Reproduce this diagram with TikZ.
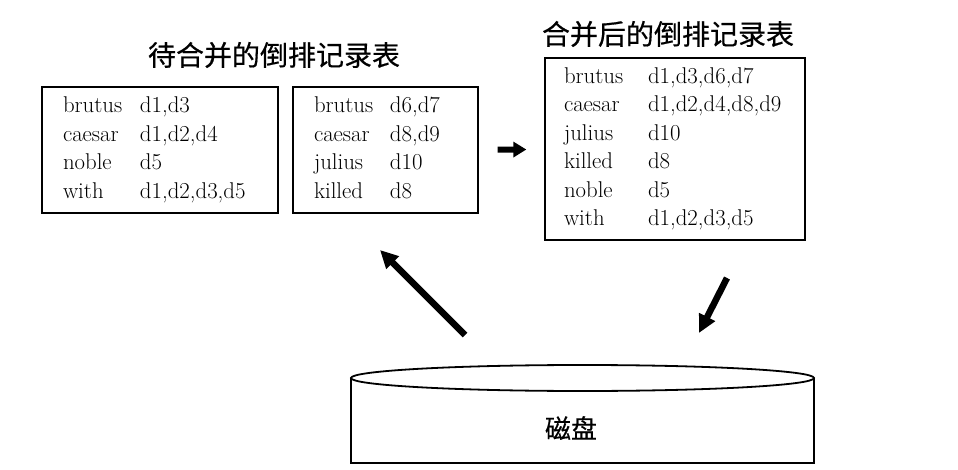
\documentclass[tikz,border=0pt]{standalone}
\usepackage{fontspec}
\newfontfamily\cjk[FakeBold=0.5]{Noto Sans CJK SC}
\usepackage{array}
\usetikzlibrary{arrows.meta, positioning}
\tikzstyle{lista} = [rectangle, 
draw=black, 
line width=1.3pt, 
inner sep=0pt, 
font=\fontsize{22.8}{28.5}\selectfont]
\tikzstyle{titulo} = [font=\cjk\fontsize{28}{32}\selectfont]
\tikzstyle{flecha} = [line width=6.5pt, -{Triangle[length=18pt,width=17pt]}]
\tikzstyle{disco} = [line width=1.8pt]

\begin{document}
\begin{tikzpicture}[x=1pt, y=-1pt]
        \useasboundingbox (0,0) rectangle (958,470);

        % --- Listas antes de la fusión ---
        \node (lista1) [lista, minimum width=236pt, minimum height=126pt] at (160,150)
            {\begin{tabular}{@{}p{77pt}@{}p{117pt}@{}}
            brutus & d1,d3\\
            caesar & d1,d2,d4\\
            noble & d5\\
            with & d1,d2,d3,d5
            \end{tabular}};

        \node (lista2) [lista, minimum width=185pt, minimum height=126pt] at (385.5,150)
            {\begin{tabular}{@{}p{76pt}@{}p{67pt}@{}}
            brutus & d6,d7\\
            caesar & d8,d9\\
            julius & d10\\
            killed & d8
            \end{tabular}};

        \node (titulo1) [titulo] at (274,55) {待合并的倒排记录表};

        % --- Lista fusionada ---
        \node (fusion) [lista, minimum width=260pt, minimum height=182pt] at (675,149)
            {\begin{tabular}{@{}p{84pt}@{}p{138pt}@{}}
            brutus & d1,d3,d6,d7\\
            caesar & d1,d2,d4,d8,d9\\
            julius & d10\\
            killed & d8\\
            noble & d5\\
            with & d1,d2,d3,d5
            \end{tabular}};

        \node (titulo2) [titulo] at (668,34) {合并后的倒排记录表};

        % --- Disco ---
        \draw [disco] (351,378) -- (351,463) -- (814,463) -- (814,378);
        \draw [disco] (582.5,378) ellipse [x radius=231.5pt, y radius=13pt];
        \node (disk) [titulo, font=\cjk\fontsize{26}{30}\selectfont] at (571,428) {磁盘};

        \coordinate (lee0) at (465,335);
        \coordinate (lee1) at (380,250);
        \coordinate (esc0) at (727,278);
        \coordinate (esc1) at (699,333);

        % --- Conexiones ---
        \draw [flecha, line width=6pt, -{Triangle[length=13pt,width=15pt]}, shorten <=19pt, shorten >=18pt] (lista2) -- (fusion);
        \draw [flecha] (lee0) -- (lee1);
        \draw [flecha] (esc0) -- (esc1);

    \end{tikzpicture}
\end{document}
